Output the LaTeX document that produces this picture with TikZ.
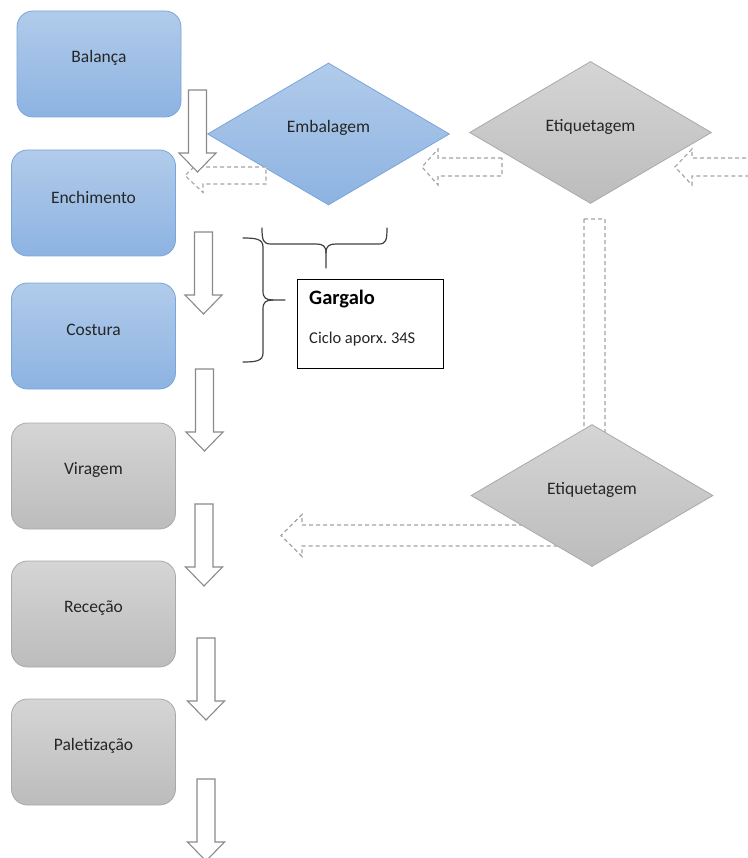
\documentclass[tikz,border=0pt]{standalone}
\usepackage{fontspec}
\setmainfont{Carlito}
\usetikzlibrary{shapes.geometric}

\definecolor{blueTop}{HTML}{B1CBEA}
\definecolor{blueBot}{HTML}{8DB3E2}
\definecolor{blueLine}{HTML}{7AA5DA}
\definecolor{greyTop}{HTML}{D5D5D5}
\definecolor{greyBot}{HTML}{BCBCBC}
\definecolor{greyLine}{HTML}{A9A9A9}
\definecolor{arrowLine}{HTML}{8A8A8A}
\definecolor{dashLine}{HTML}{A3A3A3}
\definecolor{labelText}{HTML}{262626}
\definecolor{braceLine}{HTML}{404040}

% solid block arrow pointing down: centre x, top y
\newcommand\blockdown[2]{%
  \draw[solidarrow] (#1-9,#2) -- (#1-9,#2+63) -- (#1-18.5,#2+63) -- (#1,#2+82)
    -- (#1+18.5,#2+63) -- (#1+9,#2+63) -- (#1+9,#2) -- cycle;}
% dashed block arrow pointing left: tip x, centre y, head base x, tail x, shaft half width, head half width
\newcommand\blockleft[6]{%
  \draw[dasharrow] (#4,#2-#5) -- (#3,#2-#5) -- (#3,#2-#6) -- (#1,#2) -- (#3,#2+#6)
    -- (#3,#2+#5) -- (#4,#2+#5) -- cycle;}

\tikzset{
  stagebox/.style={rounded corners=16pt, draw=blueLine, line width=0.8pt,
    top color=blueTop, bottom color=blueBot, minimum width=164pt, minimum height=106pt,
    inner sep=0pt},
  greybox/.style={stagebox, draw=greyLine, top color=greyTop, bottom color=greyBot},
  bluediamond/.style={diamond, draw=blueLine, line width=0.8pt, top color=blueTop,
    bottom color=blueBot, minimum width=242pt, minimum height=142pt, inner sep=0pt},
  greydiamond/.style={bluediamond, draw=greyLine, top color=greyTop, bottom color=greyBot},
  txt/.style={text=labelText, font=\fontsize{17.5}{20}\selectfont, yshift=6pt},
  solidarrow/.style={draw=arrowLine, fill=white, line width=1.1pt, line join=miter},
  dasharrow/.style={draw=dashLine, fill=white, line width=1.1pt, dash pattern=on 4pt off 3pt},
  bracestyle/.style={draw=braceLine, line width=1.2pt, line cap=round},
}

\begin{document}
\begin{tikzpicture}[x=1pt,y=-1pt]
\useasboundingbox (0,0) rectangle (747,858);

% dashed arrows lying behind the lower diamond
\draw[dasharrow] (584,219) -- (584,462) -- (575,462) -- (594.5,480) -- (614,462) -- (605,462) -- (605,219) -- cycle;
\blockleft{281}{535.5}{302}{600}{10.5}{21}

% decision diamonds
\node[bluediamond, label={[txt]center:Embalagem}] (emb) at (328.5,134) {};
\node[greydiamond, label={[txt]center:Etiquetagem}] (eti1) at (590.5,132.5) {};
\node[greydiamond, label={[txt]center:Etiquetagem}] (eti2) at (592,495.5) {};

% dashed arrows along the top row
\blockleft{185}{175.5}{203}{266}{8.5}{17}
\blockleft{422}{167}{438}{502}{9}{18}
\blockleft{675}{167}{692}{760}{9}{18}

% process stages
\node[stagebox, label={[txt]center:Balança}] (bal) at (99,64) {};
\node[stagebox, label={[txt]center:Enchimento}] (enc) at (93.5,203) {};
\node[stagebox, label={[txt]center:Costura}] (cos) at (93.5,336) {};
\node[greybox, label={[txt]center:Viragem}] (vir) at (93.5,476) {};
\node[greybox, label={[txt]center:Receção}] (rec) at (93.5,614) {};
\node[greybox, label={[txt]center:Paletização}] (pal) at (93.5,752) {};

% flow arrows between stages
\blockdown{197.5}{90}
\blockdown{203.5}{232}
\blockdown{204.5}{369}
\blockdown{204}{504}
\blockdown{206}{638}
\blockdown{206}{779}

% bottleneck note
\node[draw=black, line width=0.9pt, fill=white, minimum width=146pt, minimum height=89pt,
  inner sep=0pt] (garg) at (370,323.5) {};
\node[anchor=base west, font=\bfseries\fontsize{20.5}{24}\selectfont, text=black, inner sep=0pt]
  (gtitle) at (309,304) {Gargalo};
\node[anchor=base west, font=\fontsize{16.5}{20}\selectfont, text=labelText, inner sep=0pt]
  (gcycle) at (309,343) {Ciclo aporx.\ 34S};

% braces grouping the bottleneck stages
\draw[bracestyle] (262,228) .. controls (262,240) and (263,244) .. (271,244) -- (316,244)
  .. controls (323,244) and (326,246) .. (326,253) -- (326,268);
\draw[bracestyle] (326,253) .. controls (326,246) and (329,244) .. (336,244) -- (379,244)
  .. controls (386,244) and (387,240) .. (387,228);
\draw[bracestyle] (243,238) .. controls (256,238) and (263,239) .. (263,247) -- (263,291)
  .. controls (263,298) and (266,300) .. (273,300) -- (285,300);
\draw[bracestyle] (273,300) .. controls (266,300) and (263,302) .. (263,309) -- (263,353)
  .. controls (263,361) and (256,362) .. (243,362);
\end{tikzpicture}
\end{document}
